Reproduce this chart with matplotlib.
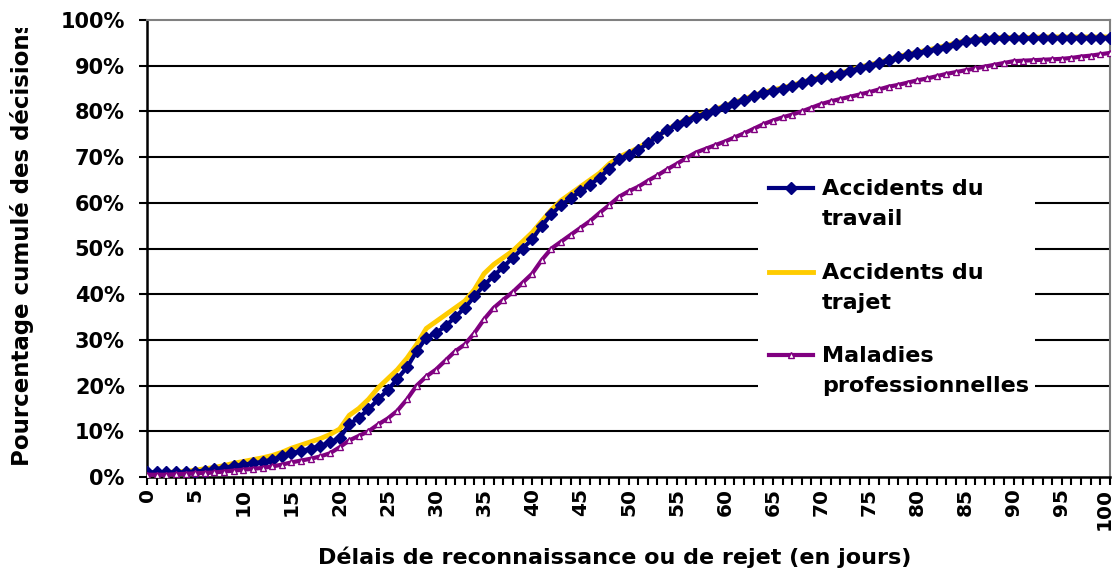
import matplotlib
matplotlib.use('Agg')
import matplotlib.pyplot as plt
import matplotlib.transforms as mtransforms
from matplotlib.lines import Line2D
from matplotlib.patches import Rectangle
from matplotlib.ticker import MultipleLocator, FuncFormatter

# délais en jours (0 à 100)
jours = list(range(0, 101))

# pourcentage cumulé des décisions
travail = [1.0, 1.0, 1.0, 1.0, 1.0, 1.2, 1.4, 1.7, 2.0, 2.4,
           2.7, 3.0, 3.3, 3.8, 4.5, 5.2, 5.7, 6.2, 6.8, 7.6,
           8.5, 11.5, 13.0, 14.8, 17.0, 19.0, 21.5, 24.0, 27.5, 30.5,
           31.5, 33.0, 35.0, 37.0, 39.5, 42.0, 44.0, 46.0, 48.0, 50.0,
           52.0, 55.0, 57.5, 59.5, 61.0, 62.5, 64.0, 65.5, 67.5, 69.5,
           70.5, 71.5, 73.0, 74.5, 76.0, 77.0, 78.0, 78.8, 79.5, 80.3,
           81.0, 81.8, 82.5, 83.3, 84.0, 84.5, 85.0, 85.5, 86.2, 86.8,
           87.3, 87.8, 88.2, 88.8, 89.5, 90.0, 90.5, 91.2, 91.8, 92.3,
           92.8, 93.2, 93.7, 94.2, 94.8, 95.3, 95.6, 95.8, 96.0, 96.0,
           96.0, 96.0, 96.0, 96.1, 96.1, 96.1, 96.1, 96.1, 96.1, 96.1,
           96.1]
trajet = [1.0, 1.0, 1.0, 1.1, 1.2, 1.5, 1.8, 2.1, 2.5, 3.0,
          3.4, 3.8, 4.2, 4.7, 5.4, 6.3, 7.0, 7.7, 8.4, 9.3,
          10.5, 13.5, 15.0, 17.0, 19.5, 21.5, 23.5, 26.0, 29.0, 32.5,
          34.0, 35.5, 37.0, 38.5, 41.0, 44.5, 46.5, 48.0, 49.5, 51.5,
          53.5, 56.0, 58.5, 60.5, 62.0, 63.5, 65.0, 66.5, 68.5, 70.0,
          71.0, 72.0, 73.3, 74.6, 76.0, 77.2, 78.2, 79.0, 79.7, 80.5,
          81.2, 82.0, 82.7, 83.5, 84.2, 84.7, 85.2, 85.7, 86.4, 87.0,
          87.5, 88.0, 88.4, 89.0, 89.7, 90.2, 90.7, 91.4, 92.0, 92.5,
          93.0, 93.4, 93.9, 94.4, 95.0, 95.5, 95.8, 96.0, 96.2, 96.2,
          96.2, 96.2, 96.2, 96.3, 96.3, 96.3, 96.3, 96.3, 96.3, 96.3,
          96.3]
maladies = [0.5, 0.5, 0.5, 0.6, 0.7, 0.8, 0.9, 1.0, 1.2, 1.4,
            1.6, 1.8, 2.0, 2.3, 2.7, 3.2, 3.6, 4.0, 4.5, 5.2,
            6.5, 8.0, 9.0, 10.0, 11.5, 12.8, 14.5, 17.0, 20.0, 22.0,
            23.5, 25.5, 27.5, 29.0, 31.5, 34.5, 37.0, 38.8, 40.5, 42.5,
            44.5, 47.5, 50.0, 51.5, 53.0, 54.5, 56.0, 57.8, 59.5, 61.3,
            62.5, 63.5, 64.8, 66.0, 67.3, 68.5, 69.8, 71.0, 71.8, 72.6,
            73.4, 74.3, 75.2, 76.2, 77.2, 78.0, 78.7, 79.3, 80.0, 80.8,
            81.6, 82.2, 82.7, 83.2, 83.7, 84.2, 84.8, 85.4, 85.8, 86.3,
            86.8, 87.2, 87.7, 88.2, 88.6, 89.0, 89.4, 89.8, 90.2, 90.6,
            91.0, 91.1, 91.2, 91.3, 91.4, 91.5, 91.7, 92.0, 92.2, 92.5,
            92.8]

noms = ['Accidents du\ntravail', 'Accidents du\ntrajet', 'Maladies\nprofessionnelles']
couleurs = ['#000080', '#FFCC00', '#800080']

W, H = 1117, 577
fig = plt.figure(figsize=(W / 100, H / 100), dpi=100)
ax = fig.add_axes([147 / W, 1 - 477 / H, (1110 - 147) / W, (477 - 20) / H])

ax.plot(jours, trajet, color=couleurs[1], lw=3.5, zorder=3)
ax.plot(jours, travail, color=couleurs[0], lw=3, marker='D', ms=6.5,
        mec=couleurs[0], zorder=4)
ax.plot(jours, maladies, color=couleurs[2], lw=3, marker='^', ms=5,
        mfc='white', mec=couleurs[2], mew=1, zorder=5)

ax.set_xlim(0, 100)
ax.set_ylim(0, 100)
ax.yaxis.set_major_locator(MultipleLocator(10))
ax.yaxis.set_major_formatter(FuncFormatter(lambda v, p: '%d%%' % round(v)))
ax.xaxis.set_major_locator(MultipleLocator(5))
ax.xaxis.set_minor_locator(MultipleLocator(1))

for v in range(10, 100, 10):
    ax.axhline(v, color='black', lw=1.5, zorder=1)

for s in ['top', 'right']:
    ax.spines[s].set_color('#808080')
    ax.spines[s].set_linewidth(1.5)
for s in ['left', 'bottom']:
    ax.spines[s].set_color('black')
    ax.spines[s].set_linewidth(1.8)

ax.tick_params(axis='y', which='major', length=6, width=1.5, pad=10,
               labelsize=15)
ax.tick_params(axis='x', which='both', length=6, width=1.5, pad=2,
               labelsize=14.5, labelrotation=90)
for lab in ax.get_xticklabels() + ax.get_yticklabels():
    lab.set_fontweight('bold')
# le dernier libellé (100) rentre un peu dans le cadre
decal = mtransforms.ScaledTranslation(-6 / 100, 0, fig.dpi_scale_trans)
for lab in ax.get_xticklabels():
    if lab.get_text() == '100':
        lab.set_transform(lab.get_transform() + decal)

ax.set_xlabel('Délais de reconnaissance ou de rejet (en jours)',
              fontsize=16, fontweight='bold', labelpad=12)
ax.xaxis.label.set_x((615 - 147) / 963)
ax.set_ylabel('Pourcentage cumulé des décisions', fontsize=16.5,
              fontweight='bold')
ax.yaxis.set_label_coords((34 - 147) / 963, (477 - 243) / 457)
ylab = ax.yaxis.label
ylab.set_clip_box(mtransforms.TransformedBbox(
    mtransforms.Bbox([[0, 0], [1, 1 - 28 / H]]), fig.transFigure))
ylab.set_clip_on(True)

# légende faite à la main
fig.add_artist(Rectangle((758 / W, 1 - 410 / H), 277 / W, 245 / H,
                         transform=fig.transFigure, facecolor='white',
                         edgecolor='none', zorder=6))
styles = [dict(color=couleurs[0], lw=3, marker='D', ms=6.5),
          dict(color=couleurs[1], lw=3.5),
          dict(color=couleurs[2], lw=3, marker='^', ms=5, mfc='white', mew=1)]
lignes_y = [188, 272, 355]
for nom, st, py in zip(noms, styles, lignes_y):
    fig.add_artist(Line2D([769 / W, 791 / W, 813 / W], [1 - py / H] * 3,
                          transform=fig.transFigure, markevery=[1],
                          zorder=7, **st))
    fig.text(822 / W, 1 - (py - 9) / H, nom, fontsize=16, fontweight='bold',
             va='top', ha='left', linespacing=1.65, zorder=7)

fig.savefig('out.png', dpi=100)
